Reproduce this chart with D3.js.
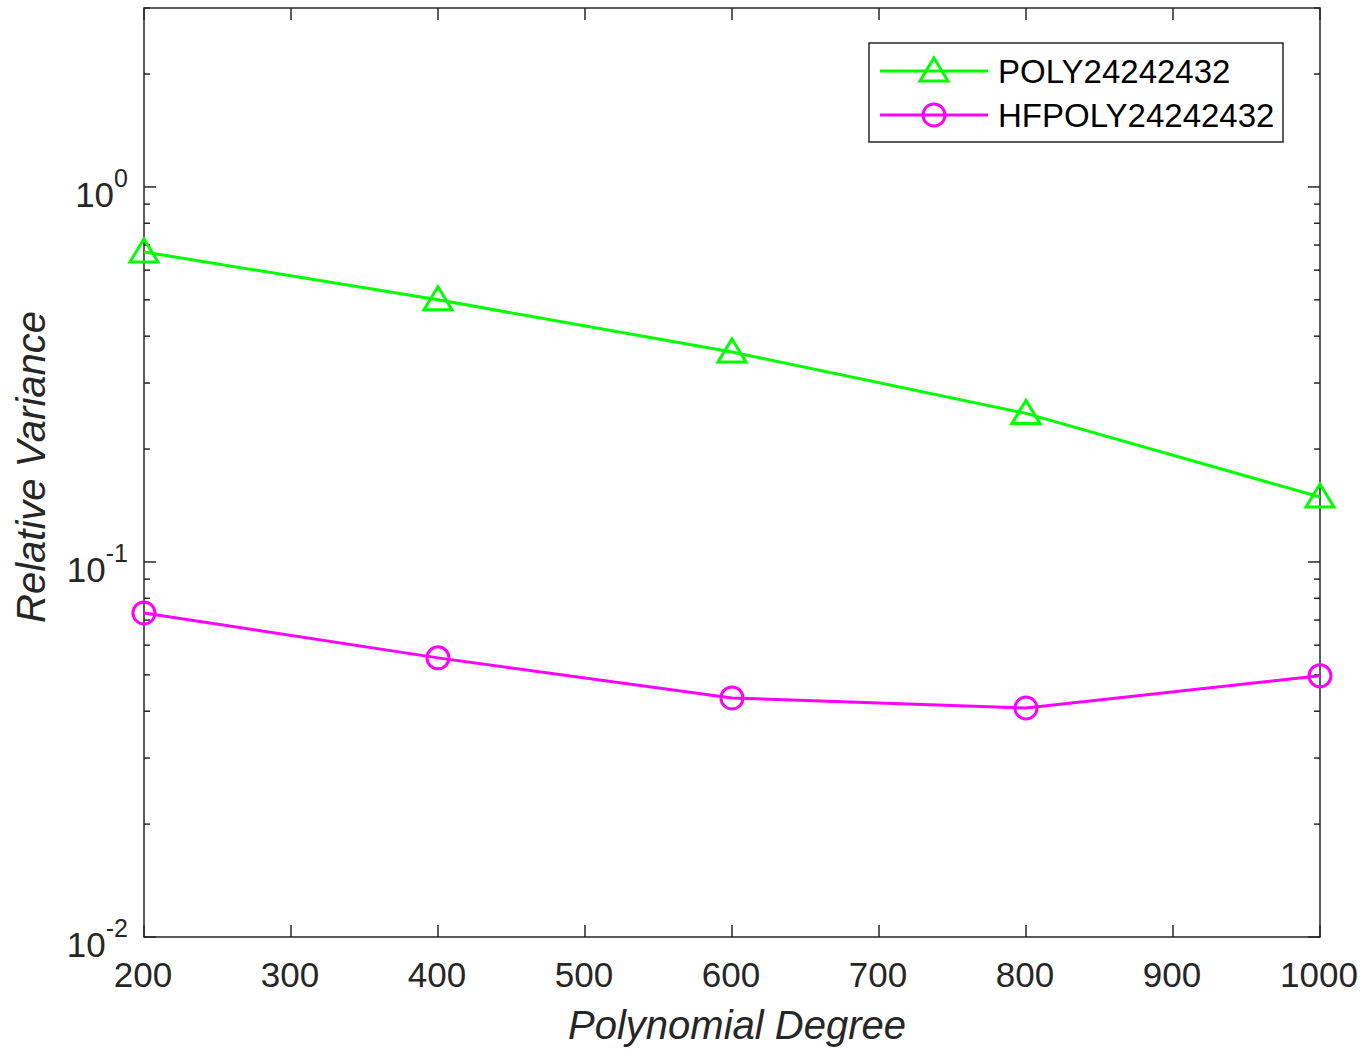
<!DOCTYPE html>
<html>
<head>
<meta charset="utf-8">
<script src="https://cdn.jsdelivr.net/npm/d3@7"></script>
<style>
  body { margin: 0; background: #fff; }
  svg { font-family: "Liberation Sans", Arial, sans-serif; }
</style>
</head>
<body>
<svg id="chart" width="1366" height="1050"></svg>
<script>
// data
var degrees = [200, 400, 600, 800, 1000];
var polyVar = [0.671, 0.50, 0.363, 0.249, 0.149];
var hfpolyVar = [0.0731, 0.0555, 0.0434, 0.0408, 0.0497];
var seriesNames = ["POLY24242432", "HFPOLY24242432"];
var xTicks = [200, 300, 400, 500, 600, 700, 800, 900, 1000];
var yMajor = [0.01, 0.1, 1];
var yExp = ["-2", "-1", "0"];

var axisColor = "#262626";
var margin = {left: 144, right: 46, top: 8, bottom: 113};
var W = 1366, H = 1050;

var svg = d3.select("#chart");

var x = d3.scaleLinear()
    .domain([200, 1000])
    .range([margin.left, W - margin.right]);

var y = d3.scaleLog()
    .domain([0.01, 3])
    .range([H - margin.bottom, margin.top]);

// minor ticks for log axis
var yMinor = [];
[0.01, 0.1, 1].forEach(function(b) {
    for (var k = 2; k <= 9; k++) {
        var v = b * k;
        if (v <= 3) yMinor.push(v);
    }
});

var g = svg.append("g");

// tick marks (inside, both sides)
function ticks(sel, vals, len, side) {
    sel.selectAll(null).data(vals).enter().append("line")
        .attr("stroke", axisColor)
        .attr("stroke-width", 1.5)
        .each(function(d) {
            var l = d3.select(this);
            if (side === "left") l.attr("x1", x.range()[0]).attr("x2", x.range()[0] + len).attr("y1", y(d)).attr("y2", y(d));
            if (side === "right") l.attr("x1", x.range()[1]).attr("x2", x.range()[1] - len).attr("y1", y(d)).attr("y2", y(d));
            if (side === "bottom") l.attr("x1", x(d)).attr("x2", x(d)).attr("y1", y.range()[0]).attr("y2", y.range()[0] - len);
            if (side === "top") l.attr("x1", x(d)).attr("x2", x(d)).attr("y1", y.range()[1]).attr("y2", y.range()[1] + len);
        });
}

ticks(g, yMajor, 12, "left");
ticks(g, yMajor, 12, "right");
ticks(g, yMinor, 6, "left");
ticks(g, yMinor, 6, "right");
ticks(g, xTicks, 12, "bottom");
ticks(g, xTicks, 12, "top");

// frame
g.append("rect")
    .attr("x", x.range()[0])
    .attr("y", y.range()[1])
    .attr("width", x.range()[1] - x.range()[0])
    .attr("height", y.range()[0] - y.range()[1])
    .attr("fill", "none")
    .attr("stroke", axisColor)
    .attr("stroke-width", 1.5);

// x tick labels
g.selectAll("text.xt").data(xTicks).enter().append("text")
    .attr("class", "xt")
    .attr("x", function(d) { return x(d) - 1; })
    .attr("y", 987)
    .attr("text-anchor", "middle")
    .attr("font-size", 35)
    .attr("fill", axisColor)
    .text(function(d) { return d; });

// y tick labels 10^n
yMajor.forEach(function(v, i) {
    var t = g.append("text")
        .attr("x", 128)
        .attr("y", y(v) + 20)
        .attr("text-anchor", "end")
        .attr("font-size", 35)
        .attr("fill", axisColor);
    t.append("tspan").text("10");
    t.append("tspan").attr("dy", -20).attr("font-size", 25).text(yExp[i]);
});

// axis titles
svg.append("text")
    .attr("x", 737)
    .attr("y", 1039)
    .attr("text-anchor", "middle")
    .attr("font-size", 40)
    .attr("font-style", "italic")
    .attr("fill", axisColor)
    .text("Polynomial Degree");

svg.append("text")
    .attr("transform", "translate(45,467) rotate(-90)")
    .attr("text-anchor", "middle")
    .attr("font-size", 40)
    .attr("font-style", "italic")
    .attr("fill", axisColor)
    .text("Relative Variance");

// series
var series = [
    {name: seriesNames[0], vals: polyVar, color: "#00ff00", marker: "tri"},
    {name: seriesNames[1], vals: hfpolyVar, color: "#ff00ff", marker: "circ"}
];

var line = d3.line()
    .x(function(d) { return x(d[0]); })
    .y(function(d) { return y(d[1]); });

function drawMarker(sel, type, color) {
    if (type === "tri") {
        sel.append("path")
            .attr("d", "M0,-13 L14,10 L-14,10 Z")
            .attr("fill", "none")
            .attr("stroke", color)
            .attr("stroke-width", 3);
    } else {
        sel.append("circle")
            .attr("r", 11)
            .attr("fill", "none")
            .attr("stroke", color)
            .attr("stroke-width", 3);
    }
}

series.forEach(function(s) {
    var pts = degrees.map(function(d, i) { return [d, s.vals[i]]; });
    svg.append("path")
        .datum(pts)
        .attr("d", line)
        .attr("fill", "none")
        .attr("stroke", s.color)
        .attr("stroke-width", 3);
    pts.forEach(function(p) {
        var m = svg.append("g").attr("transform", "translate(" + x(p[0]) + "," + y(p[1]) + ")");
        drawMarker(m, s.marker, s.color);
    });
});

// legend
var leg = svg.append("g");
leg.append("rect")
    .attr("x", 869).attr("y", 43)
    .attr("width", 414).attr("height", 99)
    .attr("fill", "#fff")
    .attr("stroke", axisColor)
    .attr("stroke-width", 1.5);

series.forEach(function(s, i) {
    var cy = 71 + i * 44;
    leg.append("line")
        .attr("x1", 880).attr("x2", 988)
        .attr("y1", cy).attr("y2", cy)
        .attr("stroke", s.color)
        .attr("stroke-width", 3);
    var m = leg.append("g").attr("transform", "translate(934," + cy + ")");
    drawMarker(m, s.marker, s.color);
    leg.append("text")
        .attr("x", 998)
        .attr("y", cy + 12)
        .attr("font-size", 33)
        .attr("fill", "#000")
        .text(s.name);
});
</script>
</body>
</html>
